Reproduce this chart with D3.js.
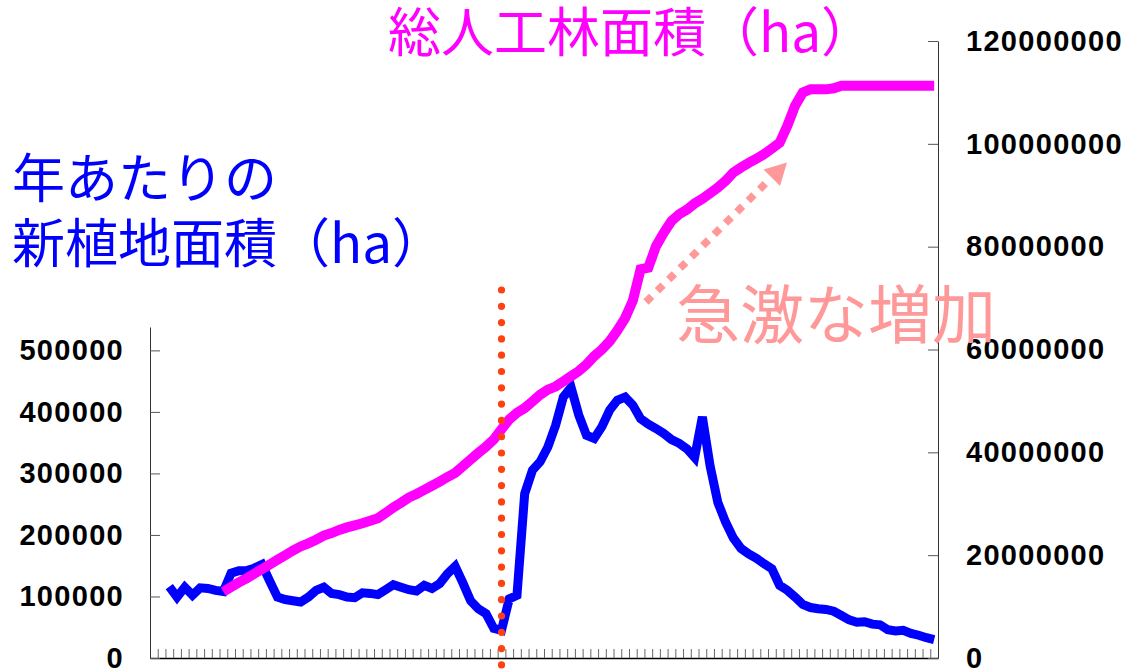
<!DOCTYPE html>
<html><head><meta charset="utf-8">
<script src="https://cdn.jsdelivr.net/npm/d3@7"></script>
<style>body{margin:0;background:#fff;} svg{display:block;background:#fff}</style>
</head><body><svg id="c" width="1125" height="670"></svg>
<script>
// ---- data ----
const blueYears = [1902,1903,1904,1905,1906,1907,1908,1909,1910,1911,1912,1913,1914,1915,1916,1917,1918,1919,1920,
1921,1922,1923,1924,1925,1926,1927,1928,1929,1930,1931,1932,1933,1934,1935,1936,1937,1938,1939,1940,
1941,1942,1943,1944,1945,1946,1947,1948,1949,1950,1951,1952,1953,1954,1955,1956,1957,1958,1959,1960,
1961,1962,1963,1964,1965,1966,1967,1968,1969,1970,1971,1972,1973,1974,1975,1976,1977,1978,1979,1980,
1981,1982,1983,1984,1985,1986,1987,1988,1989,1990,1991,1992,1993,1994,1995,1996,1997,1998,1999,2000,2001];
const newPlanting = [116000,99000,115000,102000,114000,113000,110000,108000,138000,142000,142000,146000,152000,125000,
99000,95000,93000,91000,99000,110000,115000,105000,103000,99000,98000,106000,105000,103000,111000,119000,
115000,111000,109000,118000,113000,121000,137000,149000,122000,93000,80000,72000,48000,45000,96000,102000,
267000,305000,319000,343000,378000,424000,440000,395000,362000,357000,376000,403000,419000,424000,411000,
389000,380000,373000,365000,355000,349000,340000,326000,392000,312000,253000,221000,195000,178000,169000,
162000,153000,145000,118000,110000,99000,87000,82000,80000,79000,76000,69000,62000,58000,59000,55000,54000,
46000,44000,45000,40000,37000,33000,30000];
const totalYears = [1909,1910,1911,1912,1913,1914,1915,1916,1917,1918,1919,1920,
1921,1922,1923,1924,1925,1926,1927,1928,1929,1930,1931,1932,1933,1934,1935,1936,1937,1938,1939,1940,
1941,1942,1943,1944,1945,1946,1947,1948,1949,1950,1951,1952,1953,1954,1955,1956,1957,1958,1959,1960,
1961,1962,1963,1964,1965,1966,1967,1968,1969,1970,1971,1972,1973,1974,1975,1976,1977,1978,1979,1980,
1981,1982,1983,1984,1985,1986,1987,1988,1989,1990,1991,1992,1993,1994,1995,1996,1997,1998,1999,2000,2001];
const totalArea = [12900000,13800000,14700000,15500000,16400000,17300000,18200000,19100000,20000000,20900000,
21700000,22300000,23000000,23800000,24300000,24900000,25400000,25800000,26200000,26700000,27200000,28200000,
29300000,30200000,31200000,31900000,32700000,33500000,34300000,35200000,36000000,37300000,38600000,39900000,
41100000,42500000,44500000,46400000,47700000,48600000,49900000,51200000,52200000,52800000,53800000,54800000,
55800000,57100000,58700000,60000000,61600000,63700000,66100000,69500000,75600000,75900000,80100000,82700000,
85000000,86300000,87200000,88400000,89300000,90400000,91500000,92800000,94400000,95400000,96300000,97100000,
98000000,99100000,100200000,103500000,107400000,110000000,110600000,110600000,110600000,110800000,111300000,
111300000,111300000,111300000,111300000,111300000,111300000,111300000,111300000,111300000,111300000,111300000,111300000];
const leftTicks = [0,100000,200000,300000,400000,500000];
const rightTicks = [0,20000000,40000000,60000000,80000000,100000000,120000000];
const markerYear = 1945;
const titleTotal = "総人工林面積（ha）";
const titleNew = ["年あたりの", "新植地面積（ha）"];
const noteText = "急激な増加";

// ---- chart ----
const svg = d3.select("#c");
const x = d3.scaleLinear().domain([1899.5, 2001.5]).range([150, 938]);
const yL = d3.scaleLinear().domain([0, 538000]).range([658, 327]);
const yR = d3.scaleLinear().domain([0, 120000000]).range([658, 41]);

const tickFont = g => g.selectAll("text")
  .attr("font-family", "'Liberation Sans', Arial, sans-serif")
  .attr("font-weight", "bold").attr("font-size", 29)
  .attr("letter-spacing", "1.3px").attr("fill", "#000");

// bottom axis (year boundaries)
const bounds = d3.range(1900, 2001).map(v => v + 0.5);
const gB = svg.append("g").attr("transform", "translate(0,658)")
  .call(d3.axisBottom(x).tickValues(bounds).tickSizeInner(-9).tickSizeOuter(0).tickFormat(""));
gB.select(".domain").attr("stroke", "#000").attr("stroke-width", 1.5);
gB.selectAll(".tick line").attr("stroke", "#666");

// left axis
const gL = svg.append("g").attr("transform", "translate(150,0)")
  .call(d3.axisLeft(yL).tickValues(leftTicks).tickSizeInner(-10).tickSizeOuter(0).tickPadding(26).tickFormat(d3.format("d")));
gL.select(".domain").attr("stroke", "#333");
gL.selectAll(".tick line").attr("stroke", "#555");
tickFont(gL);

// right axis
const gR = svg.append("g").attr("transform", "translate(938,0)")
  .call(d3.axisRight(yR).tickValues(rightTicks).tickSizeInner(-10).tickSizeOuter(0).tickPadding(28).tickFormat(d3.format("d")));
gR.select(".domain").attr("stroke", "#333");
gR.selectAll(".tick line").attr("stroke", "#555");
tickFont(gR);

// blue line
const blueData = blueYears.map((yr, i) => ({yr, v: newPlanting[i]}));
svg.append("path").datum(blueData)
  .attr("d", d3.line().x(d => x(d.yr)).y(d => yL(d.v)))
  .attr("fill", "none").attr("stroke", "#0000ff").attr("stroke-width", 9)
  .attr("stroke-linejoin", "miter").attr("stroke-miterlimit", 3);

// magenta line
const totData = totalYears.map((yr, i) => ({yr, v: totalArea[i]}));
svg.append("path").datum(totData)
  .attr("d", d3.line().x(d => x(d.yr)).y(d => yR(d.v)))
  .attr("fill", "none").attr("stroke", "#ff00ff").attr("stroke-width", 10)
  .attr("stroke-linejoin", "miter").attr("stroke-miterlimit", 3);

// dotted 1945 line
svg.append("line")
  .attr("x1", x(markerYear)).attr("x2", x(markerYear))
  .attr("y1", 290).attr("y2", 667)
  .attr("stroke", "#ff4010").attr("stroke-width", 7.2)
  .attr("stroke-linecap", "round").attr("stroke-dasharray", "0 16.3");

// pink dotted arrow
svg.append("line").attr("x1", 646).attr("y1", 302).attr("x2", 769).attr("y2", 180)
  .attr("stroke", "#ff9999").attr("stroke-width", 7.5).attr("stroke-dasharray", "8 8");
svg.append("path").attr("d", "M787,162.5 L780,186 L763.5,169.5 Z").attr("fill", "#ff9999");

// texts
const jp = "'Noto Sans CJK JP', sans-serif";
svg.append("text").text(titleTotal).attr("x", 388).attr("y", 29)
  .attr("dominant-baseline", "central").attr("font-family", jp).attr("font-size", 53).attr("fill", "#ff00ff");
titleNew.forEach((t, i) => {
  svg.append("text").text(t).attr("x", 12).attr("y", 175 + i * 65)
    .attr("dominant-baseline", "central").attr("font-family", jp).attr("font-size", 53).attr("fill", "#0000ff");
});
svg.append("text").text(noteText).attr("x", 676).attr("y", 310)
  .attr("dominant-baseline", "central").attr("font-family", jp).attr("font-size", 64).attr("fill", "#ff9999");
</script></body></html>
